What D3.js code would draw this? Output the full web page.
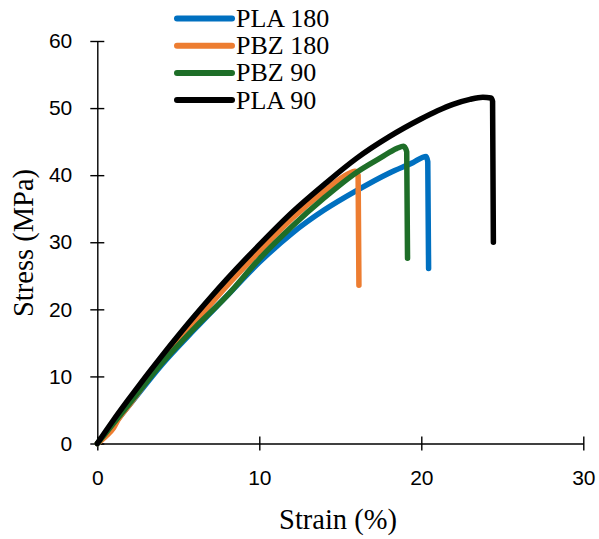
<!DOCTYPE html>
<html>
<head>
<meta charset="utf-8">
<script src="https://cdn.jsdelivr.net/npm/d3@7"></script>
<style>
  body { margin: 0; background: #fff; }
  .axis path, .axis line { stroke: #000; stroke-width: 1.4px; }
  .axis text { font-family: "Liberation Sans", Arial, sans-serif; font-size: 21px; fill: #000; }
  .title { font-family: "Liberation Serif", "Times New Roman", serif; font-size: 28.5px; fill: #000; }
  .legendText { font-family: "Liberation Serif", "Times New Roman", serif; font-size: 26px; fill: #000; }
</style>
</head>
<body>
<script>
(function(){

	//series names, in legend order
	var seriesNames = ["PLA 180", "PBZ 180", "PBZ 90", "PLA 90"];
	var seriesColors = ["#0070c0", "#ed7d31", "#1e6e28", "#000000"];

	//strain (%) / stress (MPa) values
	var strainPLA180 = [0, 1, 2, 4, 6, 8, 10, 12, 14, 16, 18, 19.5, 20.3, 20.4, 20.45];
	var stressPLA180 = [0, 2.8, 5.8, 11.8, 17, 22, 27, 31.3, 34.8, 37.7, 40.3, 41.9, 42.8, 42, 26.1];

	var strainPBZ180 = [0, 0.5, 1, 1.3, 2, 4, 6, 8, 10, 12, 14, 15.5, 15.9, 16.1, 16.15];
	var stressPBZ180 = [0, 1, 2.3, 3.6, 5.8, 12.4, 18, 23.5, 28.6, 33.5, 37.6, 40.2, 40.6, 40, 23.6];

	var strainPBZ90 = [0, 1, 2, 4, 6, 8, 10, 12, 14, 16, 17.5, 18.5, 18.9, 19.1, 19.15];
	var stressPBZ90 = [0, 3, 6, 12, 17.2, 22, 27.5, 32.3, 36.6, 40.4, 42.6, 44, 44.3, 43.5, 27.6];

	var strainPLA90 = [0, 1, 2, 3, 4, 5, 6, 7, 8, 10, 12, 14, 16, 18, 20, 21, 22, 23, 23.8, 24.3, 24.4, 24.45];
	var stressPLA90 = [0, 3.5, 6.8, 10, 13.1, 16.1, 19, 21.8, 24.5, 29.6, 34.4, 38.6, 42.5, 45.7, 48.4, 49.6, 50.6, 51.3, 51.6, 51.5, 51, 30];

	var xTicks = [0, 10, 20, 30];
	var yTicks = [0, 10, 20, 30, 40, 50, 60];

	var strainData = [strainPLA180, strainPBZ180, strainPBZ90, strainPLA90];
	var stressData = [stressPLA180, stressPBZ180, stressPBZ90, stressPLA90];

	var width = 599,
		height = 539;

	var svg = d3.select("body")
		.append("svg")
		.attr("width", width)
		.attr("height", height);

	//scales
	var x = d3.scaleLinear()
		.domain([0, 30])
		.range([97.3, 583.3]);

	var y = d3.scaleLinear()
		.domain([0, 60])
		.range([443.5, 41]);

	//axes, ticks cross the axis line
	var xAxis = d3.axisBottom(x)
		.tickValues(xTicks)
		.tickSizeInner(7)
		.tickSizeOuter(0)
		.tickPadding(20);

	var yAxis = d3.axisLeft(y)
		.tickValues(yTicks)
		.tickSizeInner(7)
		.tickSizeOuter(0)
		.tickPadding(18);

	var gx = svg.append("g")
		.attr("class", "axis")
		.attr("transform", "translate(0," + y(0) + ")")
		.call(xAxis);
	gx.selectAll(".tick line").attr("y1", -7);

	var gy = svg.append("g")
		.attr("class", "axis")
		.attr("transform", "translate(" + x(0) + ",0)")
		.call(yAxis);
	gy.selectAll(".tick line").attr("x1", 7);

	//axis titles
	svg.append("text")
		.attr("class", "title")
		.attr("x", 338)
		.attr("y", 529)
		.attr("text-anchor", "middle")
		.text("Strain (%)");

	svg.append("text")
		.attr("class", "title")
		.attr("transform", "translate(33,243) rotate(-90)")
		.attr("text-anchor", "middle")
		.text("Stress (MPa)");

	//curves
	var line = d3.line()
		.x(function(d){ return x(d[0]); })
		.y(function(d){ return y(d[1]); })
		.curve(d3.curveMonotoneX);

	seriesNames.forEach(function(name, i){
		var pts = d3.zip(strainData[i], stressData[i]);
		svg.append("path")
			.datum(pts)
			.attr("class", "series")
			.attr("d", line)
			.attr("fill", "none")
			.attr("stroke", seriesColors[i])
			.attr("stroke-width", 5.5)
			.attr("stroke-linejoin", "round")
			.attr("stroke-linecap", "round");
	});

	//legend
	var legend = svg.selectAll(".legend")
		.data(seriesNames)
		.enter()
		.append("g")
		.attr("class", "legend")
		.attr("transform", function(d, i){
			return "translate(0," + (18.5 + i * 27.2) + ")";
		});

	legend.append("line")
		.attr("x1", 177)
		.attr("x2", 232)
		.attr("stroke", function(d, i){ return seriesColors[i]; })
		.attr("stroke-width", 6)
		.attr("stroke-linecap", "round");

	legend.append("text")
		.attr("class", "legendText")
		.attr("x", 236)
		.attr("y", 8.5)
		.text(function(d){ return d; });

})();
</script>
</body>
</html>
